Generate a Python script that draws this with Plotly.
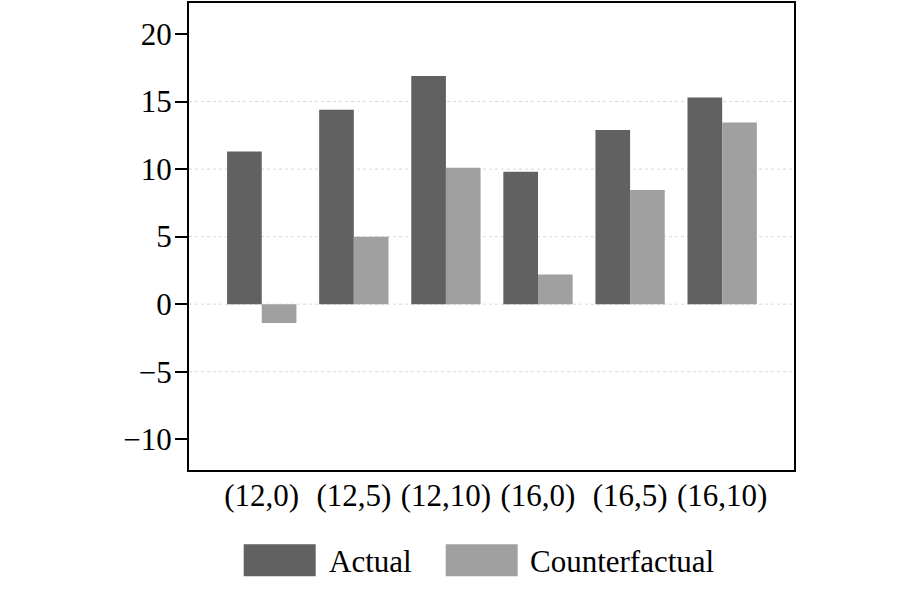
import plotly.graph_objects as go

categories = ["(12,0)", "(12,5)", "(12,10)", "(16,0)", "(16,5)", "(16,10)"]
actual = [11.3, 14.4, 16.9, 9.8, 12.9, 15.3]
counterfactual = [-1.4, 5.0, 10.1, 2.2, 8.45, 13.45]
series_names = ["Actual", "Counterfactual"]
series_colors = ["#616161", "#a0a0a0"]
y_tickvals = [-10, -5, 0, 5, 10, 15, 20]
grid_vals = [-5, 0, 5, 10, 15]

FONT = "Liberation Serif"
FS = 31

PL, PR, PT, PB = 189.3, 794.3, 0.0, 469.3
PW, PH = PR - PL, PB - PT

fig = go.Figure()
for name, vals, col in zip(series_names, [actual, counterfactual], series_colors):
    fig.add_trace(go.Bar(x=categories, y=vals, name=name, marker=dict(color=col, line=dict(width=0)),
                         showlegend=False))

for g in grid_vals:
    fig.add_shape(type="line", xref="paper", yref="y", x0=0, x1=1, y0=g, y1=g,
                  line=dict(color="#d8d8d8", width=1, dash="dot"), layer="below")

# legend drawn as swatches + text
sw = [(244, 316), (446, 518)]
txt_x = [329, 530]
for (x0, x1), tx, name, col in zip(sw, txt_x, series_names, series_colors):
    fig.add_shape(type="rect", xref="paper", yref="paper",
                  x0=(x0 - PL) / PW, x1=(x1 - PL) / PW,
                  y0=(PB - 576) / PH, y1=(PB - 544) / PH,
                  fillcolor=col, line=dict(width=0))
    fig.add_annotation(xref="paper", yref="paper", x=(tx - PL) / PW, y=(PB - 561) / PH,
                       text=name, showarrow=False, xanchor="left", yanchor="middle",
                       xshift=-2, font=dict(family=FONT, size=FS, color="black"))

fig.update_layout(
    width=900, height=600,
    margin=dict(l=PL, r=900 - PR, t=1, b=600 - PB - 1),
    paper_bgcolor="white", plot_bgcolor="white",
    barmode="group", bargap=0.247, bargroupgap=0,
    font=dict(family=FONT, size=FS, color="black"),
    xaxis=dict(range=[-0.79, 5.78], showgrid=False, showline=True, linecolor="black", linewidth=2,
               mirror=True, ticks="", tickfont=dict(family=FONT, size=FS), zeroline=False,
               ticklabelstandoff=-3),
    yaxis=dict(range=[-12.28, 22.3], tickvals=y_tickvals, showgrid=False, zeroline=False,
               showline=True, linecolor="black", linewidth=2, mirror=True,
               ticks="outside", ticklen=12, tickwidth=1.5, tickcolor="black",
               ticklabelstandoff=-3,
               tickfont=dict(family=FONT, size=FS)),
)

fig.write_html("out.html")
